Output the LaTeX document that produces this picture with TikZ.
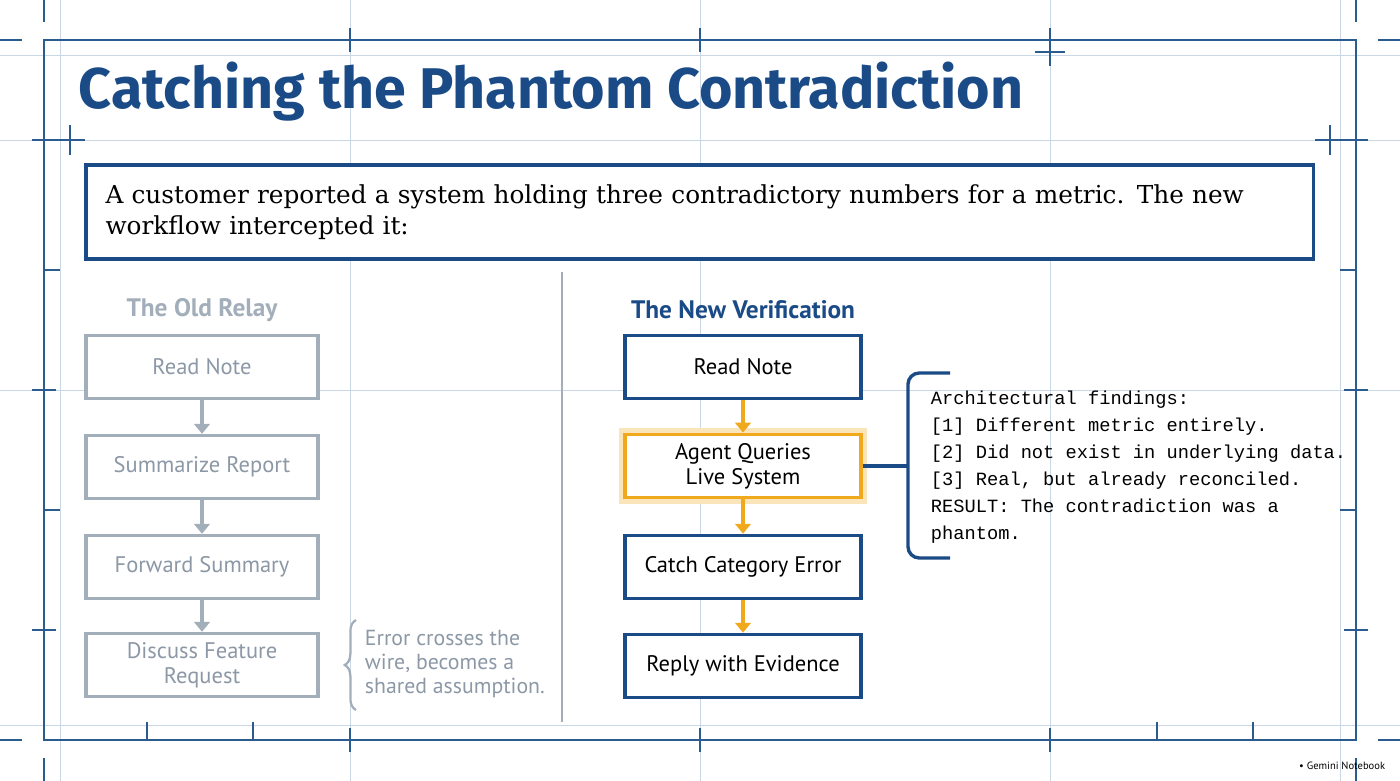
\documentclass[tikz,border=0pt]{standalone}
\usepackage{fontspec}
\setmainfont{PT Sans}
\newfontfamily\titlefont{Fira Sans}
\newfontfamily\bodyserif{DejaVu Serif}
\newfontfamily\monofont{Liberation Mono}
\usetikzlibrary{positioning,arrows.meta,decorations.pathreplacing}
\definecolor{frameblue}{HTML}{2A5C8F}
\definecolor{gridblue}{HTML}{C9D6E3}
\definecolor{darkblue}{HTML}{1A4B86}
\definecolor{oldgrey}{HTML}{A3AEBB}
\definecolor{oldtext}{HTML}{8C98A6}
\definecolor{agentorange}{HTML}{F0A81C}
\tikzset{
  oldbox/.style={draw=oldgrey,line width=2.2pt,fill=white,minimum width=165pt,minimum height=45pt,
    text=oldtext,font=\fontsize{16}{18}\selectfont,align=center,inner sep=2pt},
  newbox/.style={draw=darkblue,line width=2.4pt,fill=white,minimum width=168pt,minimum height=45pt,
    text=black,font=\fontsize{16}{18}\selectfont,align=center,inner sep=2pt},
  oldarrow/.style={-{Triangle[width=11pt,length=7pt]},oldgrey,line width=2.4pt},
  newarrow/.style={-{Triangle[width=11pt,length=7pt]},agentorange,line width=2.4pt},
  grid/.style={gridblue,line width=0.6pt},
  coltitle/.style={font=\fontsize{18}{20}\selectfont\bfseries}
}
\begin{document}
\begin{tikzpicture}[x=0.025cm,y=-0.025cm]
\useasboundingbox (0,0) rectangle (1400,781);
% blueprint grid
\foreach \x in {60,350,700,1050,1340} \draw[grid] (\x,0) -- (\x,781);
\foreach \y in {55,140,390,725} \draw[grid] (0,\y) -- (1400,\y);
\draw[frameblue,line width=1.4pt] (44,40) rectangle (1356,740);
\foreach \x in {44,1356} \draw[frameblue,line width=1.2pt] (\x,0) -- (\x,22) (\x,758) -- (\x,781);
\foreach \y in {40,740} \draw[frameblue,line width=1.2pt] (0,\y) -- (22,\y) (1378,\y) -- (1400,\y);
\foreach \x in {350,700,1050} \draw[frameblue,line width=1.2pt] (\x,28) -- (\x,52) (\x,728) -- (\x,752);
\foreach \y in {140,390,630} \draw[frameblue,line width=1.2pt] (32,\y) -- (56,\y) (1344,\y) -- (1368,\y);
\foreach \x in {147,253,1157,1253} \draw[frameblue,line width=1pt] (\x,722) -- (\x,740);
\foreach \y in {270,510} \draw[frameblue,line width=1pt] (44,\y) -- (60,\y) (1340,\y) -- (1356,\y);
\draw[frameblue,line width=1pt] (1035,52) -- (1065,52) (1050,40) -- (1050,66) (1315,140) -- (1345,140) (1330,125) -- (1330,155);
\draw[frameblue,line width=1pt] (55,140) -- (85,140) (70,125) -- (70,155);
% title
\node[anchor=west,text=darkblue,font=\titlefont\fontsize{40.8}{44}\selectfont\bfseries] (title) at (74,92) {Catching the Phantom Contradiction};
% intro box
\node[draw=darkblue,line width=2.6pt,fill=white,minimum width=873pt,minimum height=67pt,anchor=north west,
  text width=845pt,inner xsep=14pt,align=left,font=\bodyserif\fontsize{17.6}{22}\selectfont] (intro) at (84,163)
  {A customer reported a system holding three contradictory numbers for a metric. The new\\workflow intercepted it:};
% divider
\draw[oldgrey,line width=1pt] (562,272) -- (562,722);
% old relay
\node[coltitle,text=oldgrey] (oldtitle) at (202,310) {The Old Relay};
\node[oldbox] (oread) at (202,367) {Read Note};
\node[oldbox] (osum) at (202,467) {Summarize Report};
\node[oldbox] (ofwd) at (202,567) {Forward Summary};
\node[oldbox] (odisc) at (202,665) {Discuss Feature\\Request};
\draw[oldarrow] (oread) -- (osum);
\draw[oldarrow] (osum) -- (ofwd);
\draw[oldarrow] (ofwd) -- (odisc);
\coordinate (obtop) at (356,620);
\coordinate (obbot) at (356,710);
\draw[oldgrey,line width=1.6pt,decorate,decoration={brace,amplitude=8pt}] (obbot) -- (obtop);
\node[anchor=west,align=left,text=oldtext,font=\fontsize{15.5}{17}\selectfont] (onote) at (360,664)
  {Error crosses the\\wire, becomes a\\shared assumption.};
% new verification
\node[coltitle,text=darkblue] (newtitle) at (743,310) {The New Verification};
\node[newbox] (nread) at (743,367) {Read Note};
\node[newbox,draw=agentorange,line width=2.6pt,
  preaction={draw=agentorange!30,line width=9pt}] (nagent) at (743,466) {Agent Queries\\Live System};
\node[newbox] (ncatch) at (743,567) {Catch Category Error};
\node[newbox] (nreply) at (743,666) {Reply with Evidence};
\draw[newarrow] (nread) -- (nagent);
\draw[newarrow] (nagent) -- (ncatch);
\draw[newarrow] (ncatch) -- (nreply);
\coordinate (nbtop) at (950,373);
\coordinate (nbbot) at (950,558);
\coordinate (nbmid) at (908,466);
\draw[darkblue,line width=2.4pt,rounded corners=8pt] (nbtop) -| (nbmid) |- (nbbot);
\draw[darkblue,line width=2.4pt,rounded corners=8pt] (nagent.east) -- (nbmid);
\node[anchor=north west,align=left,font=\monofont\fontsize{13.3}{19.2}\selectfont] (findings) at (926,386)
  {Architectural findings:\\{[1]} Different metric entirely.\\{[2]} Did not exist in underlying data.\\{[3]} Real, but already reconciled.\\RESULT: The contradiction was a\\phantom.};
\node[anchor=east,font=\fontsize{7.5}{9}\selectfont] (brand) at (1390,766) {\textbullet\ Gemini Notebook};
\end{tikzpicture}
\end{document}
